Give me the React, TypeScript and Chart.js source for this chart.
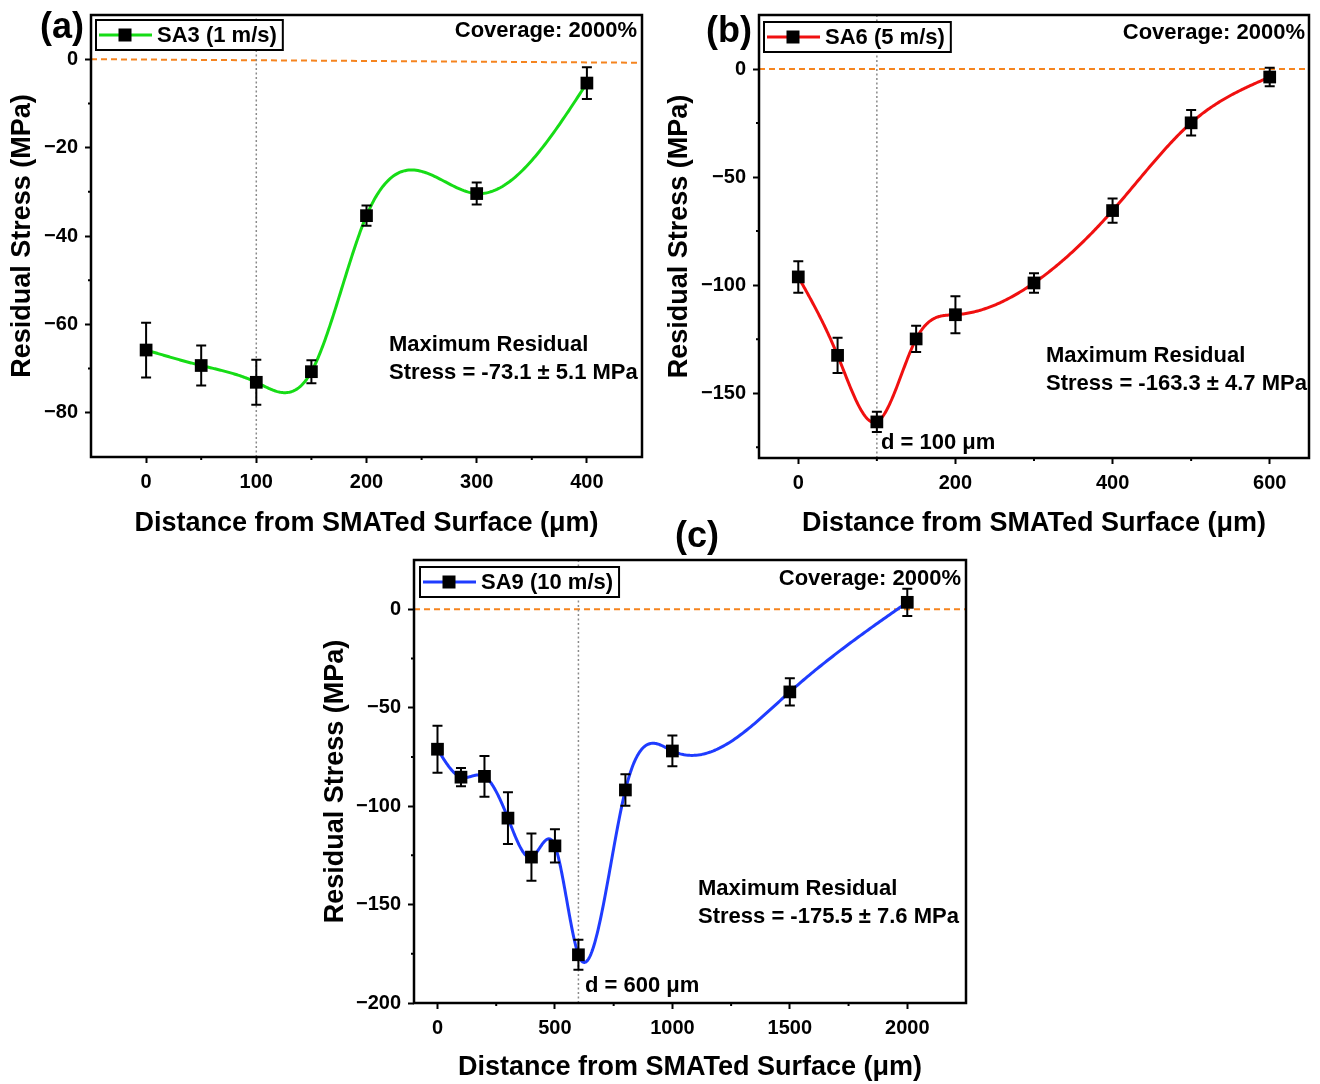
import React, { useEffect, useRef } from "react";
import { Chart, registerables } from "chart.js";

Chart.register(...registerables);

const FONT = "'Liberation Sans', Arial, Helvetica, sans-serif";
const X_TITLE = "Distance from SMATed Surface (\u03bcm)";
const Y_TITLE = "Residual Stress (MPa)";
const COVERAGE = "Coverage: 2000%";
const ORANGE = "#f5841f";

// ---------- Panel (a): SA3 (1 m/s) ----------
const A_SERIES = "SA3 (1 m/s)";
const A_DEPTH = [0, 50, 100, 150, 200, 300, 400];
const A_STRESS = [-65.8, -69.3, -73.1, -70.7, -35.4, -30.4, -5.4];
const A_ERROR = [6.2, 4.5, 5.1, 2.6, 2.3, 2.5, 3.6];
const A_X_TICKS = [0, 100, 200, 300, 400];
const A_Y_TICKS = [-80, -60, -40, -20, 0];
const A_ZERO_LINE = [0, -0.8];
const A_MARK_DEPTH = 100;
const A_NOTE = ["Maximum Residual", "Stress = -73.1 \u00b1 5.1 MPa"];

// ---------- Panel (b): SA6 (5 m/s) ----------
const B_SERIES = "SA6 (5 m/s)";
const B_DEPTH = [0, 50, 100, 150, 200, 300, 400, 500, 600];
const B_STRESS = [-96.2, -132.5, -163.3, -124.9, -113.7, -99.0, -65.5, -24.9, -3.7];
const B_ERROR = [7.3, 8.2, 4.7, 6.1, 8.6, 4.5, 5.6, 5.9, 4.3];
const B_X_TICKS = [0, 200, 400, 600];
const B_Y_TICKS = [-150, -100, -50, 0];
const B_ZERO_LINE = [0, 0];
const B_MARK_DEPTH = 100;
const B_NOTE = ["Maximum Residual", "Stress = -163.3 \u00b1 4.7 MPa"];
const B_DEPTH_NOTE = "d = 100 \u03bcm";

// ---------- Panel (c): SA9 (10 m/s) ----------
const C_SERIES = "SA9 (10 m/s)";
const C_DEPTH = [0, 100, 200, 300, 400, 500, 600, 800, 1000, 1500, 2000];
const C_STRESS = [-71.1, -85.3, -84.9, -106.1, -125.9, -120.2, -175.5, -91.8, -72.0, -42.0, 3.5];
const C_ERROR = [11.9, 4.6, 10.3, 13.2, 12.0, 8.4, 7.6, 8.0, 7.8, 6.9, 6.9];
const C_X_TICKS = [0, 500, 1000, 1500, 2000];
const C_Y_TICKS = [-200, -150, -100, -50, 0];
const C_ZERO_LINE = [0, 0];
const C_MARK_DEPTH = 600;
const C_NOTE = ["Maximum Residual", "Stress = -175.5 \u00b1 7.6 MPa"];
const C_DEPTH_NOTE = "d = 600 \u03bcm";

interface PanelCfg {
  id: string;
  tag: string;
  series: string;
  color: string;
  depth: number[];
  stress: number[];
  err: number[];
  xTicks: number[];
  yTicks: number[];
  xMinor: number;
  yMinor: number;
  xMin: number;
  xMax: number;
  yMin: number;
  yMax: number;
  zero: number[];
  mark: number;
  note: string[];
  depthNote?: string;
  box: { x: number; y: number; w: number; h: number };
  pad: { left: number; top: number; right: number };
  yAxisW: number;
  xAxisH: number;
  yTitlePad: number;
  tagPos: [number, number];
  legendPos: [number, number];
  coveragePos: [number, number];
  notePos: [number, number];
  depthNotePos?: [number, number];
}

const PANELS: PanelCfg[] = [
  {
    id: "a", tag: "(a)", series: A_SERIES, color: "#16dc16",
    depth: A_DEPTH, stress: A_STRESS, err: A_ERROR,
    xTicks: A_X_TICKS, yTicks: A_Y_TICKS, xMinor: 50, yMinor: 10,
    xMin: -50, xMax: 450, yMin: -90, yMax: 10,
    zero: A_ZERO_LINE, mark: A_MARK_DEPTH, note: A_NOTE,
    box: { x: 0, y: 0, w: 660, h: 540 },
    pad: { left: 0, top: 15, right: 18 }, yAxisW: 91, xAxisH: 83, yTitlePad: 6,
    tagPos: [62, 28], legendPos: [96, 20], coveragePos: [637, 31], notePos: [389, 345],
  },
  {
    id: "b", tag: "(b)", series: B_SERIES, color: "#f01010",
    depth: B_DEPTH, stress: B_STRESS, err: B_ERROR,
    xTicks: B_X_TICKS, yTicks: B_Y_TICKS, xMinor: 100, yMinor: 25,
    xMin: -50, xMax: 650, yMin: -180, yMax: 25,
    zero: B_ZERO_LINE, mark: B_MARK_DEPTH, note: B_NOTE, depthNote: B_DEPTH_NOTE,
    box: { x: 660, y: 0, w: 660, h: 540 },
    pad: { left: 0, top: 15, right: 11 }, yAxisW: 99, xAxisH: 82, yTitlePad: 3,
    tagPos: [69, 32], legendPos: [104, 22], coveragePos: [645, 33], notePos: [386, 356],
    depthNotePos: [221, 443],
  },
  {
    id: "c", tag: "(c)", series: C_SERIES, color: "#1f3cff",
    depth: C_DEPTH, stress: C_STRESS, err: C_ERROR,
    xTicks: C_X_TICKS, yTicks: C_Y_TICKS, xMinor: 250, yMinor: 25,
    xMin: -100, xMax: 2250, yMin: -200, yMax: 25,
    zero: C_ZERO_LINE, mark: C_MARK_DEPTH, note: C_NOTE, depthNote: C_DEPTH_NOTE,
    box: { x: 300, y: 510, w: 700, h: 574 },
    pad: { left: 0, top: 50, right: 34 }, yAxisW: 114, xAxisH: 81, yTitlePad: 19,
    tagPos: [397, 27], legendPos: [120, 57], coveragePos: [661, 69], notePos: [398, 379],
    depthNotePos: [285, 476],
  },
];

function splineCoeffs(xs: number[], ys: number[]) {
  const n = xs.length;
  const h: number[] = [];
  for (let i = 0; i < n - 1; i++) h.push(xs[i + 1] - xs[i]);
  const alpha = new Array(n).fill(0);
  for (let i = 1; i < n - 1; i++) {
    alpha[i] = (3 / h[i]) * (ys[i + 1] - ys[i]) - (3 / h[i - 1]) * (ys[i] - ys[i - 1]);
  }
  const l = new Array(n).fill(0);
  const mu = new Array(n).fill(0);
  const z = new Array(n).fill(0);
  l[0] = 1;
  for (let i = 1; i < n - 1; i++) {
    l[i] = 2 * (xs[i + 1] - xs[i - 1]) - h[i - 1] * mu[i - 1];
    mu[i] = h[i] / l[i];
    z[i] = (alpha[i] - h[i - 1] * z[i - 1]) / l[i];
  }
  const b = new Array(n).fill(0);
  const c = new Array(n).fill(0);
  const d = new Array(n).fill(0);
  for (let j = n - 2; j >= 0; j--) {
    c[j] = z[j] - mu[j] * c[j + 1];
    b[j] = (ys[j + 1] - ys[j]) / h[j] - (h[j] * (c[j + 1] + 2 * c[j])) / 3;
    d[j] = (c[j + 1] - c[j]) / (3 * h[j]);
  }
  return { h, b, c, d };
}

const fmtY = (v: number) => (v < 0 ? "\u2212" + Math.abs(v) : String(v));

function buildChart(canvas: HTMLCanvasElement, p: PanelCfg) {
  const coef = splineCoeffs(p.depth, p.stress);
  const font = (s: number) => `bold ${s}px ${FONT}`;

  const decor = {
    id: "decor" + p.id,
    beforeDatasetDraw(chart: any, args: any) {
      if (args.index !== 0) return;
      const { ctx, chartArea: ca } = chart;
      const sx = chart.scales.x;
      const sy = chart.scales.y;
      ctx.save();
      ctx.beginPath();
      ctx.rect(ca.left, ca.top, ca.right - ca.left, ca.bottom - ca.top);
      ctx.clip();
      ctx.beginPath();
      const xs = p.depth;
      for (let i = 0; i < xs.length - 1; i++) {
        const steps = 60;
        for (let k = 0; k <= steps; k++) {
          const t = (coef.h[i] * k) / steps;
          const yv = p.stress[i] + coef.b[i] * t + coef.c[i] * t * t + coef.d[i] * t * t * t;
          const px = sx.getPixelForValue(xs[i] + t);
          const py = sy.getPixelForValue(yv);
          if (i === 0 && k === 0) ctx.moveTo(px, py);
          else ctx.lineTo(px, py);
        }
      }
      ctx.strokeStyle = p.color;
      ctx.lineWidth = 3;
      ctx.lineJoin = "round";
      ctx.stroke();
      ctx.restore();
    },
    afterDatasetDraw(chart: any, args: any) {
      if (args.index !== 0) return;
      const { ctx } = chart;
      const sx = chart.scales.x;
      const sy = chart.scales.y;
      ctx.save();
      ctx.strokeStyle = "#000";
      ctx.lineWidth = 2;
      p.depth.forEach((xv, i) => {
        const px = sx.getPixelForValue(xv);
        const top = sy.getPixelForValue(p.stress[i] + p.err[i]);
        const bot = sy.getPixelForValue(p.stress[i] - p.err[i]);
        ctx.beginPath();
        ctx.moveTo(px, top);
        ctx.lineTo(px, bot);
        ctx.moveTo(px - 5, top);
        ctx.lineTo(px + 5, top);
        ctx.moveTo(px - 5, bot);
        ctx.lineTo(px + 5, bot);
        ctx.stroke();
      });
      ctx.restore();
    },
    afterDraw(chart: any) {
      const { ctx, chartArea: ca } = chart;
      const sx = chart.scales.x;
      const sy = chart.scales.y;
      ctx.save();
      // minor ticks
      ctx.strokeStyle = "#000";
      ctx.lineWidth = 2;
      ctx.beginPath();
      for (let v = Math.ceil(p.xMin / p.xMinor) * p.xMinor; v < p.xMax; v += p.xMinor) {
        if (v <= p.xMin || p.xTicks.includes(v)) continue;
        const px = sx.getPixelForValue(v);
        ctx.moveTo(px, ca.bottom);
        ctx.lineTo(px, ca.bottom + 3);
      }
      for (let v = Math.ceil(p.yMin / p.yMinor) * p.yMinor; v < p.yMax; v += p.yMinor) {
        if (v <= p.yMin || p.yTicks.includes(v)) continue;
        const py = sy.getPixelForValue(v);
        ctx.moveTo(ca.left, py);
        ctx.lineTo(ca.left - 3, py);
      }
      ctx.stroke();
      // frame
      ctx.lineWidth = 2.5;
      ctx.strokeRect(ca.left, ca.top, ca.right - ca.left, ca.bottom - ca.top);

      ctx.fillStyle = "#000";
      ctx.textBaseline = "middle";
      // coverage
      ctx.font = font(22);
      ctx.textAlign = "right";
      ctx.fillText(COVERAGE, p.coveragePos[0], p.coveragePos[1]);
      // notes
      ctx.textAlign = "left";
      ctx.fillText(p.note[0], p.notePos[0], p.notePos[1]);
      ctx.fillText(p.note[1], p.notePos[0], p.notePos[1] + 28);
      if (p.depthNote && p.depthNotePos) {
        ctx.fillText(p.depthNote, p.depthNotePos[0], p.depthNotePos[1]);
      }
      // panel tag
      ctx.font = font(36);
      ctx.textAlign = "center";
      ctx.fillText(p.tag, p.tagPos[0], p.tagPos[1]);

      // legend
      ctx.font = font(22);
      const label = chart.data.datasets[0].label as string;
      const tw = ctx.measureText(label).width;
      const [lx, ly] = p.legendPos;
      const bw = 61 + tw + 6;
      const bh = 30;
      const cy = ly + bh / 2;
      ctx.fillStyle = "#fff";
      ctx.fillRect(lx, ly, bw, bh);
      ctx.strokeStyle = "#000";
      ctx.lineWidth = 2;
      ctx.strokeRect(lx, ly, bw, bh);
      ctx.strokeStyle = p.color;
      ctx.lineWidth = 3;
      ctx.beginPath();
      ctx.moveTo(lx + 3, cy);
      ctx.lineTo(lx + 56, cy);
      ctx.stroke();
      ctx.fillStyle = "#000";
      ctx.fillRect(lx + 29 - 6.5, cy - 6.5, 13, 13);
      ctx.textAlign = "left";
      ctx.fillText(label, lx + 61, cy + 1);
      ctx.restore();
    },
  };

  const tickFont = { family: FONT, size: 20, weight: "bold" as const };
  const titleFont = { family: FONT, size: 27, weight: "bold" as const };

  return new Chart(canvas, {
    type: "scatter",
    data: {
      datasets: [
        {
          label: p.series,
          data: p.depth.map((x, i) => ({ x, y: p.stress[i] })),
          showLine: false,
          pointStyle: "rect",
          pointRadius: 9,
          pointHoverRadius: 9,
          pointBackgroundColor: "#000",
          pointBorderColor: "#000",
          pointBorderWidth: 0,
          borderColor: p.color,
          order: 0,
        },
        {
          label: "zero",
          data: [
            { x: p.xMin, y: p.zero[0] },
            { x: p.xMax, y: p.zero[1] },
          ],
          showLine: true,
          borderColor: ORANGE,
          borderWidth: 2,
          borderDash: [6, 4],
          pointRadius: 0,
          order: 2,
        },
        {
          label: "mark",
          data: [
            { x: p.mark, y: p.yMin },
            { x: p.mark, y: p.yMax },
          ],
          showLine: true,
          borderColor: "#8a8a8a",
          borderWidth: 1.5,
          borderDash: [2, 2.5],
          pointRadius: 0,
          order: 1,
        },
      ],
    },
    options: {
      responsive: false,
      animation: false,
      devicePixelRatio: 1,
      events: [],
      layout: { padding: { left: p.pad.left, top: p.pad.top, right: p.pad.right, bottom: 0 } },
      plugins: { legend: { display: false }, tooltip: { enabled: false } },
      scales: {
        x: {
          type: "linear",
          bounds: "data",
          min: p.xMin,
          max: p.xMax,
          afterBuildTicks: (s: any) => {
            s.ticks = p.xTicks.map((v) => ({ value: v }));
          },
          afterFit: (s: any) => {
            s.height = p.xAxisH;
            s.paddingLeft = 0;
            s.paddingRight = 0;
          },
          ticks: {
            font: tickFont,
            color: "#000",
            padding: 7,
            autoSkip: false,
            maxRotation: 0,
            callback: (v: any) => String(v),
          },
          grid: { drawOnChartArea: false, drawTicks: true, tickLength: 6, tickWidth: 2, tickColor: "#000" },
          border: { display: false },
          title: { display: true, text: X_TITLE, font: titleFont, color: "#000", padding: { top: 0, bottom: 0 } },
        },
        y: {
          type: "linear",
          bounds: "data",
          min: p.yMin,
          max: p.yMax,
          afterBuildTicks: (s: any) => {
            s.ticks = p.yTicks.map((v) => ({ value: v }));
          },
          afterFit: (s: any) => {
            s.width = p.yAxisW;
            s.paddingTop = 0;
            s.paddingBottom = 0;
          },
          ticks: {
            font: tickFont,
            color: "#000",
            padding: 7,
            autoSkip: false,
            callback: (v: any) => fmtY(Number(v)),
          },
          grid: { drawOnChartArea: false, drawTicks: true, tickLength: 6, tickWidth: 2, tickColor: "#000" },
          border: { display: false },
          title: { display: true, text: Y_TITLE, font: titleFont, color: "#000", padding: { top: p.yTitlePad, bottom: 0 } },
        },
      },
    },
    plugins: [decor],
  } as any);
}

function PanelChart({ p }: { p: PanelCfg }) {
  const ref = useRef<HTMLCanvasElement>(null);
  useEffect(() => {
    const chart = buildChart(ref.current as HTMLCanvasElement, p);
    return () => chart.destroy();
  }, [p]);
  return (
    <canvas
      ref={ref}
      width={p.box.w}
      height={p.box.h}
      style={{ position: "absolute", left: p.box.x, top: p.box.y, width: p.box.w, height: p.box.h }}
    />
  );
}

export default function App() {
  return (
    <div style={{ position: "absolute", left: 0, top: 0, width: 1320, height: 1084, background: "#fff", overflow: "hidden" }}>
      {PANELS.map((p) => (
        <PanelChart key={p.id} p={p} />
      ))}
    </div>
  );
}
